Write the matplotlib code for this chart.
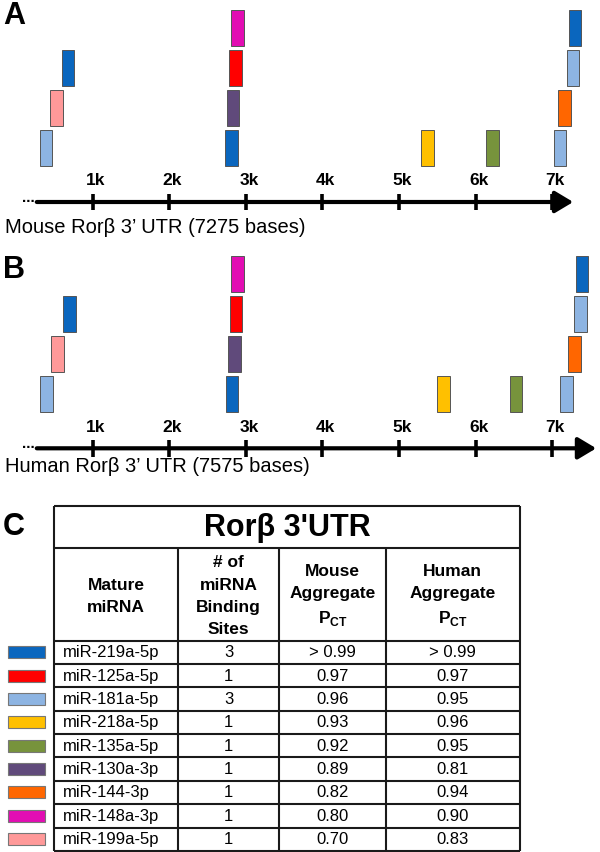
import matplotlib.pyplot as plt
from matplotlib.patches import Rectangle

plt.rcParams['font.family'] = ['Liberation Sans', 'DejaVu Sans']
plt.rcParams['mathtext.fontset'] = 'custom'
plt.rcParams['mathtext.rm'] = 'Liberation Sans'
plt.rcParams['mathtext.bf'] = 'Liberation Sans:bold'

# table data (panel C)
mirna = ['miR-219a-5p', 'miR-125a-5p', 'miR-181a-5p', 'miR-218a-5p', 'miR-135a-5p',
         'miR-130a-3p', 'miR-144-3p', 'miR-148a-3p', 'miR-199a-5p']
mirna_colors = ['#0A66BE', '#FF0000', '#8DB4E2', '#FFC000', '#77933C',
                '#604A7B', '#FF6600', '#E20DB3', '#FF9999']
n_sites = [3, 1, 3, 1, 1, 1, 1, 1, 1]
mouse_pct = ['> 0.99', '0.97', '0.96', '0.93', '0.92', '0.89', '0.82', '0.80', '0.70']
human_pct = ['> 0.99', '0.97', '0.95', '0.96', '0.95', '0.81', '0.94', '0.90', '0.83']

# binding sites along the 3' UTR (positions in kb, stack level)
mouse_len_kb = 7.275
mouse_site_mirna = ['miR-181a-5p', 'miR-199a-5p', 'miR-219a-5p',
                    'miR-219a-5p', 'miR-130a-3p', 'miR-125a-5p', 'miR-148a-3p',
                    'miR-218a-5p', 'miR-135a-5p',
                    'miR-181a-5p', 'miR-144-3p', 'miR-181a-5p', 'miR-219a-5p']
mouse_site_kb = [0.39, 0.53, 0.68, 2.81, 2.83, 2.865, 2.89, 5.37, 6.22, 7.10, 7.16, 7.27, 7.30]
mouse_site_level = [0, 1, 2, 0, 1, 2, 3, 0, 0, 0, 1, 2, 3]

human_len_kb = 7.575
human_site_mirna = ['miR-181a-5p', 'miR-199a-5p', 'miR-219a-5p',
                    'miR-219a-5p', 'miR-130a-3p', 'miR-125a-5p', 'miR-148a-3p',
                    'miR-218a-5p', 'miR-135a-5p',
                    'miR-181a-5p', 'miR-144-3p', 'miR-181a-5p', 'miR-219a-5p']
human_site_kb = [0.395, 0.54, 0.70, 2.82, 2.85, 2.87, 2.89, 5.58, 6.53, 7.19, 7.29, 7.37, 7.39]
human_site_level = [0, 1, 2, 0, 1, 2, 3, 0, 0, 0, 1, 2, 3]

kb_ticks = [1, 2, 3, 4, 5, 6, 7]

color_of = dict(zip(mirna, mirna_colors))

W, H = 600, 852
fig = plt.figure(figsize=(W / 100, H / 100), dpi=100)

PX0, PX_PER_KB = 16.1, 76.58
UTR_START = 0.27


def draw_utr(ax, names, kb, level, length):
    ax.bar(kb, 0.9, width=0.163, bottom=[0.9 + l for l in level],
           color=[color_of[n] for n in names], edgecolor='#555555', linewidth=0.7)
    ax.annotate('', xy=(length, 0), xytext=(UTR_START, 0),
                arrowprops=dict(arrowstyle='-|>,head_length=1.0,head_width=0.6',
                                mutation_scale=11, lw=3.0, color='black',
                                shrinkA=0, shrinkB=0))
    ax.vlines(kb_ticks, -0.21, 0.21, color='black', lw=2.6)
    for k in kb_ticks:
        ax.text(k + 0.04, 0.53, f'{k}k', ha='center', va='center',
                fontsize=12.5, fontweight='bold')
    ax.text(UTR_START - 0.02, 0.1, '...', ha='right', va='center', fontsize=11,
            fontweight='bold')
    ax.axis('off')


def panel_axes(top_px, bottom_px, axis_px):
    ax = fig.add_axes([0, 1 - bottom_px / H, 1, (bottom_px - top_px) / H])
    ax.set_xlim(-PX0 / PX_PER_KB, (W - PX0) / PX_PER_KB)
    ax.set_ylim((axis_px - bottom_px) / 40, (axis_px - top_px) / 40)
    return ax


ax_a = panel_axes(0, 240, 202)
draw_utr(ax_a, mouse_site_mirna, mouse_site_kb, mouse_site_level, mouse_len_kb)
ax_b = panel_axes(240, 490, 448.3)
draw_utr(ax_b, human_site_mirna, human_site_kb, human_site_level, human_len_kb)

fig.text(5 / W, 1 - 233 / H, 'Mouse Rorβ 3’ UTR (7275 bases)', fontsize=14.5,
         ha='left', va='baseline')
fig.text(5 / W, 1 - 471.5 / H, 'Human Rorβ 3’ UTR (7575 bases)', fontsize=14.5,
         ha='left', va='baseline')

for lab, ypx in [('A', 16), ('B', 270), ('C', 527)]:
    fig.text(3 / W, 1 - ypx / H, lab, fontsize=22, fontweight='bold',
             ha='left', va='center')

# panel C table
ax_c = fig.add_axes([0, 0, 1, 362 / H])
ax_c.set_xlim(0, W)
ax_c.set_ylim(H, 490)
ax_c.axis('off')

col_x = [54.3, 177.7, 279.3, 385.7, 520]
y_top, y_title, y_head, row_h = 505.7, 547.7, 640.7, 23.35
y_bot = y_head + row_h * len(mirna)
lw = 1.5

ax_c.hlines([y_top, y_title, y_head] + [y_head + row_h * (i + 1) for i in range(len(mirna))],
            col_x[0], col_x[-1], color='#1a1a1a', lw=lw)
ax_c.vlines([col_x[0], col_x[-1]], y_top, y_bot, color='#1a1a1a', lw=lw)
ax_c.vlines(col_x[1:-1], y_title, y_bot, color='#1a1a1a', lw=lw)

ax_c.text((col_x[0] + col_x[-1]) / 2, (y_top + y_title) / 2 + 1, 'Rorβ 3\'UTR',
          ha='center', va='center', fontsize=22, fontweight='bold')

headers = ['Mature\nmiRNA', '# of\nmiRNA\nBinding\nSites',
           'Mouse\nAggregate\n$\\mathbf{P}_{\\mathbf{CT}}$',
           'Human\nAggregate\n$\\mathbf{P}_{\\mathbf{CT}}$']
for i, h in enumerate(headers):
    ax_c.text((col_x[i] + col_x[i + 1]) / 2, (y_title + y_head) / 2 + 2, h,
              ha='center', va='center', fontsize=12.5, fontweight='bold',
              linespacing=1.6, multialignment='center')

for i, name in enumerate(mirna):
    yc = y_head + row_h * (i + 0.5)
    ax_c.add_patch(Rectangle((8.3, yc - 6), 36.7, 12, facecolor=mirna_colors[i],
                             edgecolor='#777777', lw=0.8))
    ax_c.text(col_x[0] + 8.5, yc + 0.5, name, ha='left', va='center', fontsize=12)
    ax_c.text((col_x[1] + col_x[2]) / 2, yc + 0.5, str(n_sites[i]),
              ha='center', va='center', fontsize=12)
    ax_c.text((col_x[2] + col_x[3]) / 2, yc + 0.5, mouse_pct[i],
              ha='center', va='center', fontsize=12)
    ax_c.text((col_x[3] + col_x[4]) / 2, yc + 0.5, human_pct[i],
              ha='center', va='center', fontsize=12)

fig.savefig('out.png', dpi=100)
